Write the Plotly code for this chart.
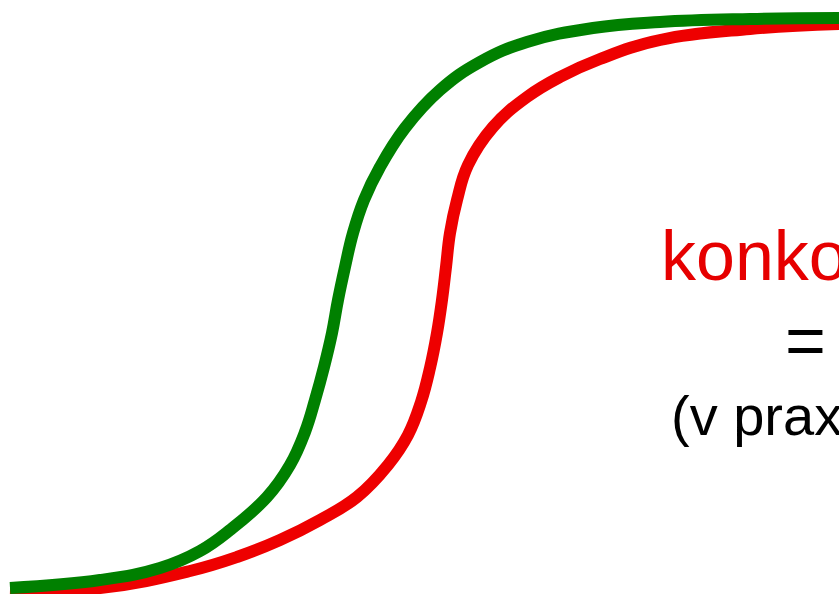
import plotly.graph_objects as go

green_x = [10, 100, 160, 200, 230, 267, 290, 305, 315, 324, 332, 338, 345, 353,
           364, 380, 405, 440, 480, 527, 593, 660, 750, 839]
green_y = [588, 580, 568, 551, 530, 497, 465, 432, 400, 367, 333, 300, 267, 233,
           200, 167, 128, 90, 62, 42, 28, 22, 19, 18]

red_x = [10, 100, 190, 237, 280, 320, 357, 388, 408, 421, 430, 437, 442, 446,
         450, 457, 468, 493, 527, 560, 600, 660, 750, 839]
red_y = [590, 588, 571, 557, 540, 520, 497, 465, 435, 402, 368, 333, 300, 267,
         233, 200, 165, 127, 97, 77, 59, 40, 29, 24]

labels = ["konkordance", "=", "(v praxi)"]
label_colors = ["#e60000", "black", "black"]

RED = "#ee0000"
GREEN = "#008000"

fig = go.Figure()
fig.add_trace(go.Scatter(x=red_x, y=red_y, mode="lines",
                         line=dict(color=RED, width=12, shape="spline", smoothing=1.2)))
fig.add_trace(go.Scatter(x=green_x, y=green_y, mode="lines",
                         line=dict(color=GREEN, width=12, shape="spline", smoothing=1.2)))

# text block on the right, partly running off the edge
text_pos = [(659, 256, 70), (783, 341, 70), (669, 415, 56)]
for txt, col, (tx, ty, size) in zip(labels, label_colors, text_pos):
    fig.add_annotation(x=tx, y=ty, xref="x", yref="y", text=txt, showarrow=False,
                       xanchor="left", yanchor="middle",
                       font=dict(family="Liberation Sans, Arial", size=size, color=col))

fig.update_xaxes(range=[0, 839], visible=False, fixedrange=True)
fig.update_yaxes(range=[594, 0], visible=False, fixedrange=True)
fig.update_layout(width=839, height=594, showlegend=False,
                  margin=dict(l=0, r=0, t=0, b=0),
                  plot_bgcolor="white", paper_bgcolor="white")

fig.write_html("out.html", config={"displayModeBar": False},
               post_script="document.body.style.margin='0';")
